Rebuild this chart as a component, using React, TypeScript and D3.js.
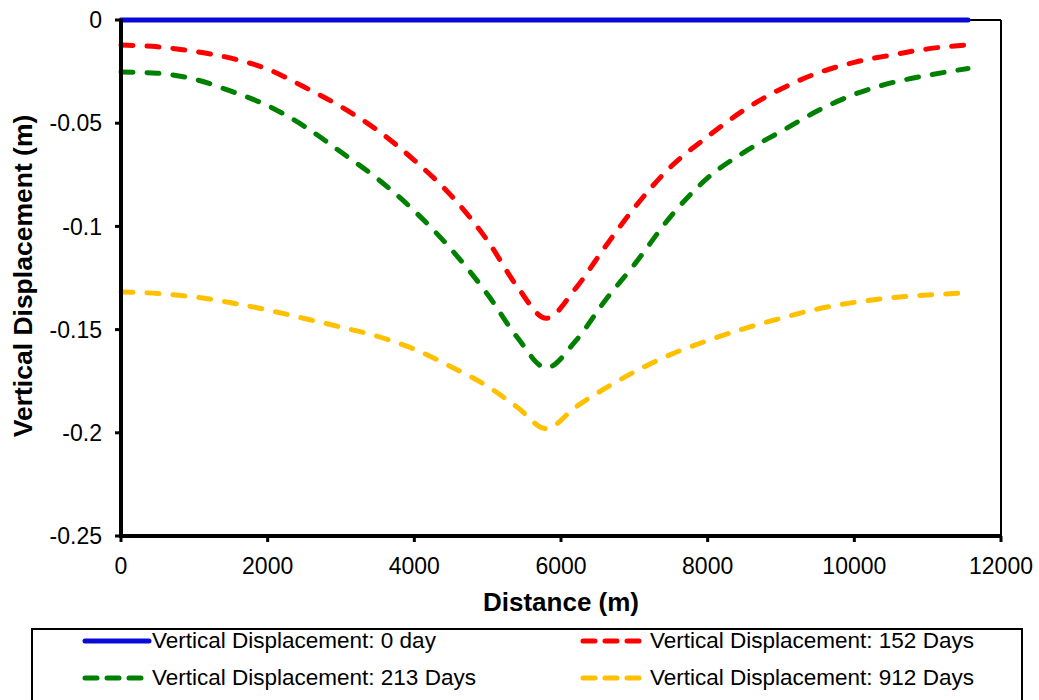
import React from "react";
import * as d3 from "d3";

// Distance along the profile (m)
const distance = [
  0, 500, 1000, 1500, 2000, 2500, 3000, 3500, 4000, 4500, 5000, 5400, 5800,
  6200, 6600, 7000, 7500, 8000, 8500, 9000, 9500, 10000, 10500, 11000, 11550,
];

// Vertical displacement (m) for each time step
const day0 = distance.map(() => 0);
const day152 = [
  -0.0121, -0.013, -0.0152, -0.0185, -0.0238, -0.0325, -0.042, -0.0535, -0.068,
  -0.085, -0.107, -0.129, -0.1445, -0.13, -0.11, -0.091, -0.071, -0.0565,
  -0.0435, -0.0334, -0.0257, -0.0205, -0.017, -0.014, -0.012,
];
const day213 = [
  -0.0252, -0.0258, -0.0287, -0.0345, -0.0415, -0.0515, -0.064, -0.077,
  -0.0925, -0.111, -0.133, -0.1536, -0.1685, -0.1555, -0.136, -0.1185, -0.095,
  -0.0765, -0.064, -0.054, -0.044, -0.036, -0.0305, -0.0268, -0.0235,
];
const day912 = [
  -0.1318, -0.1325, -0.1342, -0.137, -0.1405, -0.1446, -0.1488, -0.1533,
  -0.1595, -0.168, -0.1775, -0.1875, -0.198, -0.1875, -0.1785, -0.1705, -0.162,
  -0.1553, -0.1495, -0.1445, -0.14, -0.1368, -0.1346, -0.1332, -0.1322,
];

const seriesNames = [
  "Vertical Displacement: 0 day",
  "Vertical Displacement: 152 Days",
  "Vertical Displacement: 213 Days",
  "Vertical Displacement: 912 Days",
];
const seriesValues = [day0, day152, day213, day912];
const seriesColors = ["#0a0ad8", "#ff0000", "#008000", "#ffc000"];
const seriesDashed = [false, true, true, true];

const xTicks = [0, 2000, 4000, 6000, 8000, 10000, 12000];
const yTicks = [0, -0.05, -0.1, -0.15, -0.2, -0.25];

const FONT = "'Liberation Sans', Arial, sans-serif";

export default function App() {
  const W = 1039;
  const H = 700;
  const left = 121;
  const right = 1001;
  const top = 20;
  const bottom = 536;

  const x = d3.scaleLinear().domain([0, 12000]).range([left, right]);
  const y = d3.scaleLinear().domain([-0.25, 0]).range([bottom, top]);

  const line = d3
    .line<number>()
    .x((_, i) => x(distance[i]))
    .y((v) => y(v))
    .curve(d3.curveMonotoneX);

  const dash = "12 14";

  // legend layout: two columns, two rows
  const legendItems = seriesNames.map((name, i) => {
    const col = i % 2;
    const row = Math.floor(i / 2);
    const x0 = col === 0 ? 85 : 583;
    const yy = row === 0 ? 648 : 685;
    return { name, i, x0, yy };
  });

  return (
    <svg
      width={W}
      height={H}
      style={{ position: "absolute", left: 0, top: 0, background: "#fff" }}
      fontFamily={FONT}
    >
      <rect x={0} y={0} width={W} height={H} fill="#fff" />

      {/* plot frame */}
      <line x1={left} y1={top} x2={right} y2={top} stroke="#000" strokeWidth={2} />
      <line x1={right} y1={top} x2={right} y2={bottom} stroke="#000" strokeWidth={2} />

      {/* series */}
      {seriesValues.map((vals, i) => (
        <path
          key={i}
          d={line(vals) ?? ""}
          fill="none"
          stroke={seriesColors[i]}
          strokeWidth={5}
          strokeLinecap="round"
          strokeDasharray={seriesDashed[i] ? dash : undefined}
        />
      ))}

      {/* axes */}
      <line x1={left} y1={top - 1} x2={left} y2={bottom + 2} stroke="#000" strokeWidth={4} />
      <line x1={left - 2} y1={bottom} x2={right + 1} y2={bottom} stroke="#000" strokeWidth={4} />

      {yTicks.map((t) => (
        <g key={t}>
          <line x1={left - 6} x2={left} y1={y(t)} y2={y(t)} stroke="#000" strokeWidth={3} />
          <text
            x={102}
            y={y(t)}
            dy="0.36em"
            textAnchor="end"
            fontSize={23}
            fill="#000"
          >
            {t === 0 ? "0" : String(t)}
          </text>
        </g>
      ))}

      {xTicks.map((t) => (
        <g key={t}>
          <line x1={x(t)} x2={x(t)} y1={bottom} y2={bottom + 6} stroke="#000" strokeWidth={3} />
          <text x={x(t)} y={574} textAnchor="middle" fontSize={23} fill="#000">
            {t}
          </text>
        </g>
      ))}

      {/* axis titles */}
      <text x={561} y={611} textAnchor="middle" fontSize={26} fontWeight="bold" fill="#000">
        Distance (m)
      </text>
      <text
        transform="translate(32,276) rotate(-90)"
        textAnchor="middle"
        fontSize={26.5}
        fontWeight="bold"
        fill="#000"
      >
        Vertical Displacement (m)
      </text>

      {/* legend */}
      <rect x={32} y={629} width={990} height={90} fill="none" stroke="#000" strokeWidth={2} />
      {legendItems.map(({ name, i, x0, yy }) => (
        <g key={name}>
          <line
            x1={x0}
            x2={x0 + 64}
            y1={yy - 7}
            y2={yy - 7}
            stroke={seriesColors[i]}
            strokeWidth={5}
            strokeLinecap="round"
            strokeDasharray={seriesDashed[i] ? "12 10" : undefined}
          />
          <text x={x0 + 67} y={yy} fontSize={22.5} fill="#000">
            {name}
          </text>
        </g>
      ))}
    </svg>
  );
}
